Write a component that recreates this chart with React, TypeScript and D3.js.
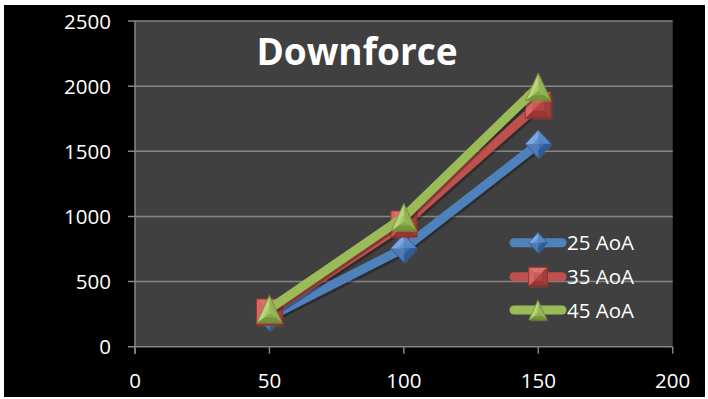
import React from 'react';
import * as d3 from 'd3';

const xValues = [50, 100, 150];
const seriesNames = ['25 AoA', '35 AoA', '45 AoA'];
const aoa25 = [230, 755, 1556];
const aoa35 = [266, 942, 1855];
const aoa45 = [289, 995, 1996];
const xTicks = [0, 50, 100, 150, 200];
const yTicks = [0, 500, 1000, 1500, 2000, 2500];
const title = 'Downforce';

const palette = [
  { base: '#4F81BD', light: '#7FAAE6', dark: '#2A5894' },
  { base: '#C0504D', light: '#EC7A76', dark: '#8A2B29' },
  { base: '#9BBB59', light: '#BEDA82', dark: '#6A8A2E' },
];
const shapes = ['diamond', 'square', 'triangle'];

type Pt = [number, number];

function shapeVerts(shape: string, cx: number, cy: number, s: number): { c: Pt; v: Pt[] } {
  if (shape === 'diamond') {
    return { c: [cx, cy], v: [[cx, cy - 14 * s], [cx + 13 * s, cy], [cx, cy + 14 * s], [cx - 13 * s, cy]] };
  }
  if (shape === 'square') {
    const h = 13 * s;
    return { c: [cx, cy], v: [[cx - h, cy - h], [cx + h, cy - h], [cx + h, cy + h], [cx - h, cy + h]] };
  }
  const hw = 12.5 * s, hh = 13.5 * s;
  const v: Pt[] = [[cx, cy - hh], [cx + hw, cy + hh], [cx - hw, cy + hh]];
  return { c: [cx, cy + hh * 0.33], v };
}

function Marker({ shape, cx, cy, s, col }: { shape: string; cx: number; cy: number; s: number; col: any }) {
  const { c, v } = shapeVerts(shape, cx, cy, s);
  const interp = d3.interpolateRgb(col.dark, col.light);
  const facets = v.map((p, i) => {
    const q = v[(i + 1) % v.length];
    const mx = (p[0] + q[0]) / 2 - c[0];
    const my = (p[1] + q[1]) / 2 - c[1];
    const len = Math.hypot(mx, my) || 1;
    const dot = (-mx * 0.6 - my * 0.8) / len;
    const t = 0.5 + 0.45 * dot;
    return (
      <polygon
        key={i}
        points={[c, p, q].map((d) => d.join(',')).join(' ')}
        fill={interp(t)}
        stroke={interp(t)}
        strokeWidth={0.4}
      />
    );
  });
  const inner = v.map((p) => [c[0] + (p[0] - c[0]) * 0.45, c[1] + (p[1] - c[1]) * 0.45] as Pt);
  return (
    <g>
      <polygon points={v.map((d) => d.join(',')).join(' ')} fill={col.base} transform="translate(1,1.5)" opacity={0.35} />
      {facets}
      <polygon points={inner.map((d) => d.join(',')).join(' ')} fill={col.base} opacity={0.55} />
      <polygon points={v.map((d) => d.join(',')).join(' ')} fill="none" stroke={col.dark} strokeWidth={1} strokeOpacity={0.8} />
    </g>
  );
}

export default function App() {
  const W = 708, H = 399;
  const left = 135, right = 672.7, top = 21, bottom = 346.7;
  const x = d3.scaleLinear().domain([0, 200]).range([left, right]);
  const y = d3.scaleLinear().domain([0, 2500]).range([bottom, top]);
  const series = [aoa25, aoa35, aoa45];
  const line = d3
    .line<number>()
    .x((_, i) => x(xValues[i]))
    .y((d) => y(d));
  const font = "'Open Sans', 'Noto Sans', sans-serif";
  const legendY = [242.7, 276.7, 310];

  return (
    <svg width={W} height={H} style={{ position: 'absolute', left: 0, top: 0 }} xmlns="http://www.w3.org/2000/svg">
      <rect x={0} y={0} width={W} height={H} fill="#ffffff" />
      <rect x={4} y={5} width={701} height={392} fill="#000000" />
      <rect x={left} y={top} width={right - left} height={bottom - top} fill="#404040" />
      {yTicks.map((t) => (
        <g key={'y' + t}>
          <line x1={left - 7} x2={right} y1={y(t)} y2={y(t)} stroke="#868686" strokeWidth={1.5} />
          <text x={111} y={y(t) + 7.5} fill="#ffffff" fontSize={20.5} fontFamily={font} textAnchor="end">
            {t}
          </text>
        </g>
      ))}
      <line x1={left} x2={left} y1={top} y2={bottom + 7} stroke="#868686" strokeWidth={1.5} />
      {xTicks.map((t) => (
        <g key={'x' + t}>
          <line x1={x(t)} x2={x(t)} y1={bottom} y2={bottom + 7} stroke="#868686" strokeWidth={1.5} />
          <text x={x(t)} y={388} fill="#ffffff" fontSize={20.5} fontFamily={font} textAnchor="middle">
            {t}
          </text>
        </g>
      ))}
      <text x={357} y={65} fill="#ffffff" fontSize={37} fontWeight="bold" fontFamily={font} textAnchor="middle">
        {title}
      </text>
      {series.map((vals, si) => (
        <g key={'s' + si}>
          <path d={line(vals) || ''} fill="none" stroke="#000" strokeOpacity={0.3} strokeWidth={10} transform="translate(1,2)" strokeLinecap="round" />
          <path d={line(vals) || ''} fill="none" stroke={palette[si].base} strokeWidth={9} strokeLinecap="round" strokeLinejoin="round" />
          {vals.map((v, i) => (
            <Marker key={i} shape={shapes[si]} cx={x(xValues[i])} cy={y(v)} s={1} col={palette[si]} />
          ))}
        </g>
      ))}
      {seriesNames.map((name, si) => (
        <g key={'l' + si}>
          <line x1={514} x2={562} y1={legendY[si]} y2={legendY[si]} stroke={palette[si].base} strokeWidth={9} strokeLinecap="round" />
          <Marker shape={shapes[si]} cx={538} cy={legendY[si]} s={0.72} col={palette[si]} />
          <text x={567} y={legendY[si] + 7.5} fill="#ffffff" fontSize={20.5} fontFamily={font}>
            {name}
          </text>
        </g>
      ))}
    </svg>
  );
}
